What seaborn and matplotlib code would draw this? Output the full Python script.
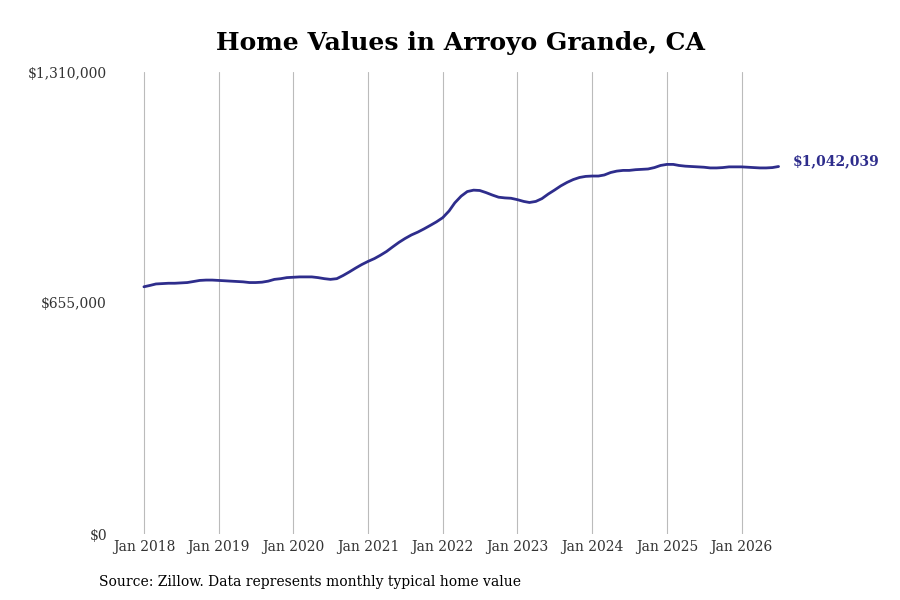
import pandas as pd
import numpy as np
import matplotlib.pyplot as plt
import matplotlib.dates as mdates
import matplotlib.ticker as mticker
import seaborn as sns

# Monthly typical home value, Jan 2018 - Jul 2026
values_k = [
    701, 705, 709, 710, 711, 711, 712, 713, 716, 719, 720, 720,      # 2018
    719, 718, 717, 716, 715, 713, 713, 714, 717, 722, 724, 727,      # 2019
    728, 729, 729, 729, 727, 724, 722, 724, 733, 743, 754, 764,      # 2020
    773, 781, 790, 801, 814, 827, 838, 848, 856, 865, 875, 885,      # 2021
    897, 916, 939, 958, 971, 975, 974, 968, 961, 955, 953, 952,      # 2022
    948, 943, 940, 943, 951, 964, 975, 987, 997, 1005, 1011, 1014,   # 2023
    1015, 1015, 1018, 1025, 1029, 1031, 1031, 1033, 1034, 1035, 1039, 1045,  # 2024
    1048, 1048, 1045, 1043, 1042, 1041, 1040, 1038, 1038, 1039, 1041, 1041,  # 2025
    1041, 1040, 1039, 1038, 1038, 1039, 1042.039,                    # 2026
]
dates = pd.date_range("2018-01-01", periods=len(values_k), freq="MS")
last_label = "$1,042,039"
title = "Home Values in Arroyo Grande, CA"
source = "Source: Zillow. Data represents monthly typical home value"
y_ticks = [0, 655000, 1310000]

df = pd.DataFrame({"date": dates, "value": np.array(values_k) * 1000})

sns.set_style("white")
plt.rcParams["font.family"] = ["DejaVu Serif"]

line_color = "#2e2d8c"

fig = plt.figure(figsize=(9, 6), dpi=100)
ax = fig.add_axes([120 / 900, 1 - 534 / 600, 660 / 900, 462 / 600])

sns.lineplot(data=df, x="date", y="value", color=line_color, linewidth=2, ax=ax)

start = pd.Timestamp("2018-01-01")
ax.set_xlim(start - pd.Timedelta(days=117), start + pd.Timedelta(days=3110))
ax.set_ylim(0, 1310000)

ax.xaxis.set_major_locator(mdates.YearLocator())
ax.xaxis.set_major_formatter(mdates.DateFormatter("Jan %Y"))
ax.set_yticks(y_ticks)
ax.yaxis.set_major_formatter(mticker.FuncFormatter(lambda v, p: f"${v:,.0f}"))

ax.grid(axis="x", color="#bbbbbb", linewidth=0.8)
ax.grid(axis="y", visible=False)
for s in ax.spines.values():
    s.set_visible(False)
ax.tick_params(axis="both", length=0, labelsize=10, colors="#333333")
ax.tick_params(axis="y", pad=9.4)
ax.tick_params(axis="x", pad=4)
ax.set_xlabel("")
ax.set_ylabel("")

# label at the last point
ax.annotate(last_label, xy=(df["date"].iloc[-1], df["value"].iloc[-1]),
            xytext=(10, 4), textcoords="offset points", color=line_color,
            fontsize=10, fontweight="bold", va="center", ha="left",
            annotation_clip=False)

fig.text(461 / 900, 1 - 43 / 600, title, ha="center", va="center",
         fontsize=18, fontweight="bold", color="black")
fig.text(99 / 900, 1 - 582 / 600, source, ha="left", va="center", fontsize=10,
         color="black")

fig.savefig("out.png", dpi=100)
